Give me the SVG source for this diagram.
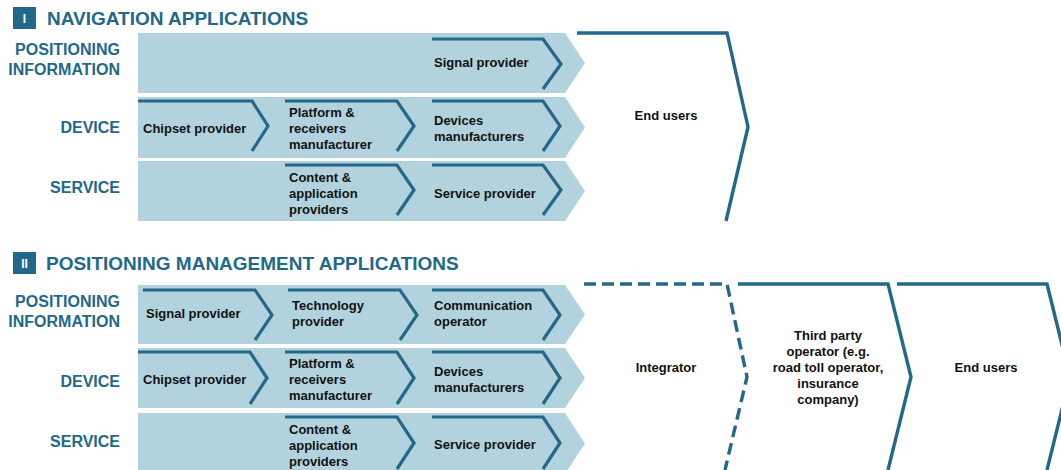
<svg xmlns="http://www.w3.org/2000/svg" width="1061" height="470" viewBox="0 0 1061 470">
<defs>
<style>
.band{fill:#b2d3de;}
.chev{fill:none;stroke:#236888;stroke-width:3.2;stroke-linejoin:miter;}
.big{fill:none;stroke:#236888;stroke-width:3.4;}
.dash{stroke-dasharray:12 6;}
.t{font-family:"Liberation Sans",Arial,sans-serif;font-weight:bold;font-size:13px;fill:#111;}
.c{text-anchor:middle;}
.lbl{font-family:"Liberation Sans",Arial,sans-serif;font-weight:bold;font-size:16px;fill:#236888;text-anchor:end;}
.ttl{font-family:"Liberation Sans",Arial,sans-serif;font-weight:bold;font-size:19px;fill:#236888;}
.num{font-family:"Liberation Sans",Arial,sans-serif;font-weight:bold;font-size:12px;fill:#fff;text-anchor:middle;}
.box{fill:#236888;}
</style>
</defs>
<rect width="1061" height="470" fill="#fff"/>

<!-- Section I -->
<g id="header-1">
<rect class="box" x="13" y="7" width="23" height="22"/>
<text class="num" x="24.5" y="22.5">I</text>
<text class="ttl" x="47" y="25">NAVIGATION APPLICATIONS</text>
</g>
<g id="labels-1">
<text class="lbl" x="120" y="55">POSITIONING</text>
<text class="lbl" x="120" y="75">INFORMATION</text>
<text class="lbl" x="120" y="133">DEVICE</text>
<text class="lbl" x="120" y="193">SERVICE</text>
</g>
<g id="bands-1">
<polygon class="band" points="138,33 565,33 585,63 565,93 138,93"/>
<polygon class="band" points="138,97 565,97 585,127.5 565,158 138,158"/>
<polygon class="band" points="138,161 565,161 585,191 565,221 138,221"/>
</g>
<g id="n1-signal">
<path class="chev" d="M432 39 H543 L561 64 L543 89"/>
<text class="t" x="434" y="67">Signal provider</text>
</g>
<g id="n1-chipset">
<path class="chev" d="M138 101 H252 L268 126 L252 151"/>
<text class="t" x="143" y="132.5">Chipset provider</text>
</g>
<g id="n1-platform">
<path class="chev" d="M285 101 H397 L414 126 L397 151"/>
<text class="t" x="289" y="116.5">Platform &amp;</text>
<text class="t" x="289" y="132.5">receivers</text>
<text class="t" x="289" y="148.5">manufacturer</text>
</g>
<g id="n1-devices">
<path class="chev" d="M432 101 H543 L560 126 L543 151"/>
<text class="t" x="434" y="124.5">Devices</text>
<text class="t" x="434" y="140.5">manufacturers</text>
</g>
<g id="n1-content">
<path class="chev" d="M285 165 H397 L414 190 L397 215"/>
<text class="t" x="289" y="181.5">Content &amp;</text>
<text class="t" x="289" y="197.5">application</text>
<text class="t" x="289" y="213.5">providers</text>
</g>
<g id="n1-service">
<path class="chev" d="M432 165 H543 L561 190 L543 215"/>
<text class="t" x="434" y="198">Service provider</text>
</g>
<g id="n1-endusers">
<path class="big" d="M577 33 H727 L748 127 L726 221"/>
<text class="t c" x="666" y="120">End users</text>
</g>

<!-- Section II -->
<g id="header-2">
<rect class="box" x="13" y="252" width="23" height="22"/>
<text class="num" x="24.5" y="267.5">II</text>
<text class="ttl" x="46" y="270">POSITIONING MANAGEMENT APPLICATIONS</text>
</g>
<g id="labels-2">
<text class="lbl" x="120" y="307">POSITIONING</text>
<text class="lbl" x="120" y="327">INFORMATION</text>
<text class="lbl" x="120" y="387">DEVICE</text>
<text class="lbl" x="120" y="447">SERVICE</text>
</g>
<g id="bands-2">
<polygon class="band" points="138,285 565,285 585,314.5 565,344 138,344"/>
<polygon class="band" points="138,348 565,348 585,378 565,408 138,408"/>
<polygon class="band" points="138,413 565,413 585,443.5 565,474 138,474"/>
</g>
<g id="n2-signal">
<path class="chev" d="M143 290 H255 L272 315 L255 340"/>
<text class="t" x="146" y="318">Signal provider</text>
</g>
<g id="n2-technology">
<path class="chev" d="M288 290 H400 L417 315 L400 340"/>
<text class="t" x="292" y="309.5">Technology</text>
<text class="t" x="292" y="325.5">provider</text>
</g>
<g id="n2-communication">
<path class="chev" d="M432 290 H543 L560 315 L543 340"/>
<text class="t" x="434" y="309.5">Communication</text>
<text class="t" x="434" y="325.5">operator</text>
</g>
<g id="n2-chipset">
<path class="chev" d="M138 352 H250 L267 378 L250 404"/>
<text class="t" x="143" y="383.5">Chipset provider</text>
</g>
<g id="n2-platform">
<path class="chev" d="M285 352 H397 L414 378 L397 404"/>
<text class="t" x="289" y="367.5">Platform &amp;</text>
<text class="t" x="289" y="383.5">receivers</text>
<text class="t" x="289" y="399.5">manufacturer</text>
</g>
<g id="n2-devices">
<path class="chev" d="M432 352 H543 L560 378 L543 404"/>
<text class="t" x="434" y="375.5">Devices</text>
<text class="t" x="434" y="391.5">manufacturers</text>
</g>
<g id="n2-content">
<path class="chev" d="M285 417 H397 L414 443 L397 469"/>
<text class="t" x="289" y="433.5">Content &amp;</text>
<text class="t" x="289" y="449.5">application</text>
<text class="t" x="289" y="465.5">providers</text>
</g>
<g id="n2-service">
<path class="chev" d="M432 417 H543 L560 443 L543 469"/>
<text class="t" x="434" y="448.5">Service provider</text>
</g>
<g id="n2-integrator">
<path class="big dash" d="M584 284 H727 L747 377 L725 470"/>
<text class="t c" x="666" y="372">Integrator</text>
</g>
<g id="n2-thirdparty">
<path class="big" d="M738 284 H888 L911 377 L888 470"/>
<text class="t c" x="828" y="340">Third party</text>
<text class="t c" x="828" y="356">operator (e.g.</text>
<text class="t c" x="828" y="372">road toll operator,</text>
<text class="t c" x="828" y="388">insurance</text>
<text class="t c" x="828" y="404">company)</text>
</g>
<g id="n2-endusers">
<path class="big" d="M897 284 H1047 L1070 377 L1047 470"/>
<text class="t c" x="986" y="372">End users</text>
</g>
<g id="connectors"></g>
</svg>
